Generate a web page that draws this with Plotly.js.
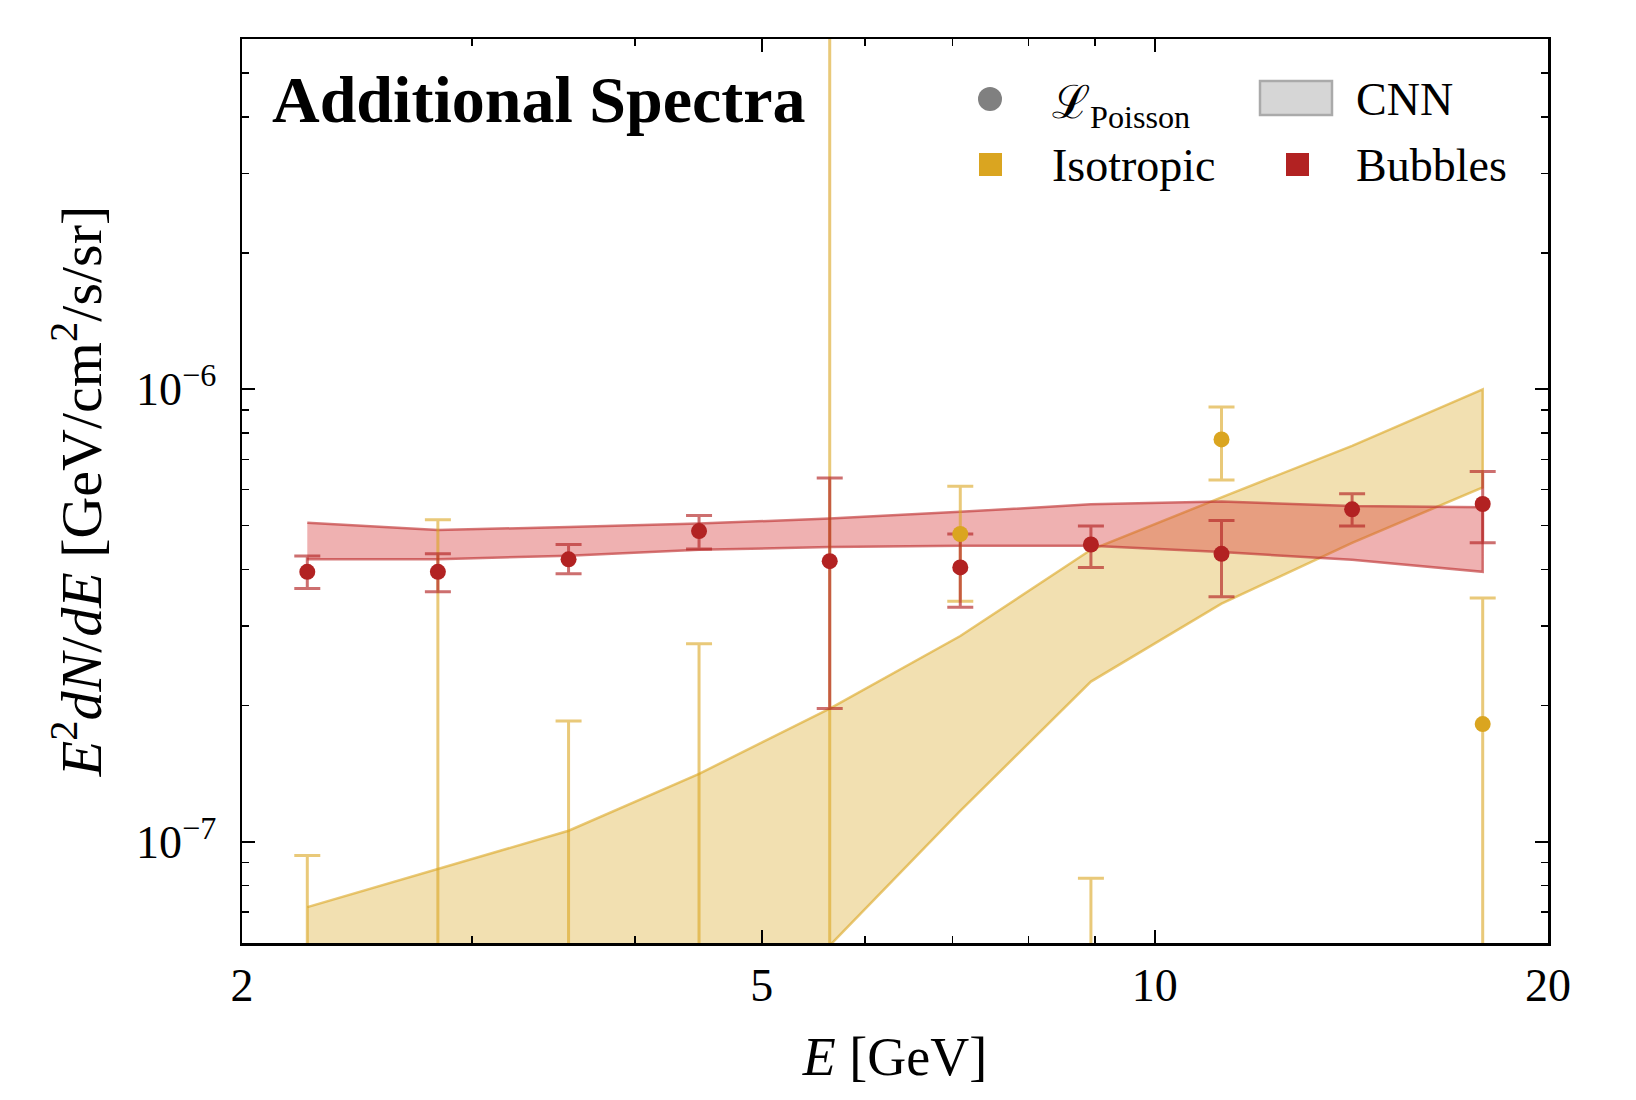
<!DOCTYPE html>
<html><head><meta charset="utf-8">
<script src="https://cdn.plot.ly/plotly-3.0.1.min.js"></script>
<style>html,body{margin:0;padding:0;background:#fff}</style>
</head><body>
<div id="chart" style="width:1636px;height:1100px"></div>
<script>
// ---------- data ----------
const energy = [2.244, 2.825, 3.557, 4.477, 5.637, 7.096, 8.934, 11.247, 14.159, 17.825];

// Bubbles, L_Poisson fit (value, upper, lower)
const bubblesVal = [3.95e-7, 3.95e-7, 4.21e-7, 4.86e-7, 4.17e-7, 4.04e-7, 4.54e-7, 4.33e-7, 5.43e-7, 5.58e-7];
const bubblesHi  = [4.28e-7, 4.33e-7, 4.54e-7, 5.26e-7, 6.37e-7, 4.79e-7, 4.99e-7, 5.13e-7, 5.88e-7, 6.58e-7];
const bubblesLo  = [3.63e-7, 3.57e-7, 3.91e-7, 4.44e-7, 1.97e-7, 3.30e-7, 4.04e-7, 3.48e-7, 4.99e-7, 4.58e-7];

// Isotropic, L_Poisson fit (value, upper, lower); values below the axis are estimates
const isoVal = [2e-8, 2e-8, 2e-8, 2e-8, 3e-8, 4.79e-7, 2e-8, 7.75e-7, null, 1.82e-7];
const isoHi  = [9.33e-8, 5.15e-7, 1.85e-7, 2.74e-7, 2e-5, 6.11e-7, 8.31e-8, 9.14e-7, null, 3.46e-7];
const isoLo  = [1e-9, 1e-9, 1e-9, 1e-9, 1e-9, 3.40e-7, 1e-9, 6.30e-7, null, 1e-9];

// CNN bands
const bubblesCnnUp = [5.07e-7, 4.89e-7, 4.96e-7, 5.05e-7, 5.18e-7, 5.36e-7, 5.57e-7, 5.65e-7, 5.52e-7, 5.49e-7];
const bubblesCnnLo = [4.21e-7, 4.21e-7, 4.29e-7, 4.42e-7, 4.48e-7, 4.51e-7, 4.51e-7, 4.37e-7, 4.20e-7, 3.95e-7];
const isoCnnUp = [7.17e-8, 8.70e-8, 1.058e-7, 1.413e-7, 1.97e-7, 2.85e-7, 4.42e-7, 5.77e-7, 7.50e-7, 1.0e-6];
const isoCnnLo = [1e-8, 1e-8, 1e-8, 1e-8, 5.9e-8, 1.17e-7, 2.26e-7, 3.36e-7, 4.58e-7, 6.07e-7];

// ticks
const xTickVals = [2, 5, 10, 20];
const xTickText = ['2', '5', '10', '20'];
const xMinorVals = [3, 4, 6, 7, 8, 9];
const yTickVals = [1e-7, 1e-6];
const yTickText = ['10<sup>\u22127</sup>', '10<sup>\u22126</sup>'];
const yMinorVals = [7e-8, 8e-8, 9e-8, 2e-7, 3e-7, 4e-7, 5e-7, 6e-7, 7e-7, 8e-7, 9e-7, 2e-6, 3e-6, 4e-6, 5e-6];

// legend labels
const legendLabels = ['\u2112<sub>Poisson</sub>', 'CNN', 'Isotropic', 'Bubbles'];

// ---------- colours ----------
const RED = '#b22222', GOLD = '#daa520';

function band(up, lo, fill, line) {
  return {
    x: energy.concat(energy.slice().reverse()),
    y: up.concat(lo.slice().reverse()),
    type: 'scatter', mode: 'lines', fill: 'toself',
    fillcolor: fill, line: {color: line, width: 2.5},
    hoverinfo: 'skip', showlegend: false
  };
}
const diff = (a, b) => a.map((v, i) => (v == null || b[i] == null) ? null : v - b[i]);

const traces = [
  band(isoCnnUp, isoCnnLo, 'rgba(218,165,32,0.35)', 'rgba(218,165,32,0.6)'),
  band(bubblesCnnUp, bubblesCnnLo, 'rgba(214,50,50,0.38)', 'rgba(190,50,50,0.65)'),
  { // isotropic error bars
    x: energy, y: isoVal, type: 'scatter', mode: 'markers',
    marker: {size: 1, opacity: 0},
    error_y: {type: 'data', symmetric: false, array: diff(isoHi, isoVal), arrayminus: diff(isoVal, isoLo),
              color: 'rgba(218,165,32,0.6)', thickness: 3, width: 13},
    showlegend: false, hoverinfo: 'skip'
  },
  { // bubbles
    x: energy, y: bubblesVal, type: 'scatter', mode: 'markers', name: 'Bubbles',
    marker: {size: 16, color: RED},
    error_y: {type: 'data', symmetric: false, array: diff(bubblesHi, bubblesVal), arrayminus: diff(bubblesVal, bubblesLo),
              color: 'rgba(178,34,34,0.65)', thickness: 3, width: 13},
    showlegend: false
  },
  { // isotropic markers
    x: energy, y: isoVal, type: 'scatter', mode: 'markers', name: 'Isotropic',
    marker: {size: 16, color: GOLD}, showlegend: false
  }
];

// ---------- layout ----------
const M = {l: 242, r: 88, t: 39, b: 157};
const W = 1636, H = 1100;
const PW = W - M.l - M.r, PH = H - M.t - M.b;
const px = X => (X - M.l) / PW;
const py = Y => (H - M.b - Y) / PH;

const FONT = 'Liberation Serif, DejaVu Serif, serif';

const shapes = [
  {type: 'circle', xref: 'paper', yref: 'paper', x0: px(978), x1: px(1002), y0: py(111), y1: py(87),
   fillcolor: '#808080', line: {width: 0}},
  {type: 'rect', xref: 'paper', yref: 'paper', x0: px(1260), x1: px(1332), y0: py(115), y1: py(81),
   fillcolor: '#d6d6d6', line: {color: '#aaaaaa', width: 2.5}},
  {type: 'rect', xref: 'paper', yref: 'paper', x0: px(979), x1: px(1002), y0: py(176), y1: py(153),
   fillcolor: GOLD, line: {width: 0}},
  {type: 'rect', xref: 'paper', yref: 'paper', x0: px(1286), x1: px(1309), y0: py(176), y1: py(153),
   fillcolor: RED, line: {width: 0}}
];

const ann = (text, X, Y, size, bold) => ({
  text: bold ? '<b>' + text + '</b>' : text, xref: 'paper', yref: 'paper', x: px(X), y: py(Y),
  xanchor: 'left', yanchor: 'middle', showarrow: false,
  font: {family: FONT, size: size, color: 'black'}
});

const annotations = [
  ann('Additional Spectra', 270, 99, 66, true),
  ann(legendLabels[0], 1050, 106, 46),
  ann(legendLabels[1], 1354, 99, 46),
  ann(legendLabels[2], 1050, 165, 46),
  ann(legendLabels[3], 1354, 165, 46)
];

const axisCommon = {
  type: 'log', tickmode: 'array', ticks: 'inside', ticklen: 13, tickwidth: 2, tickcolor: 'black',
  showline: true, linewidth: 2.5, linecolor: 'black', mirror: 'ticks',
  showgrid: false, zeroline: false
};

const layout = {
  width: W, height: H, margin: M,
  paper_bgcolor: 'white', plot_bgcolor: 'white', showlegend: false,
  font: {family: FONT, color: 'black'},
  xaxis: Object.assign({}, axisCommon, {
    range: [Math.log10(2), Math.log10(20)],
    tickvals: xTickVals, ticktext: xTickText, tickfont: {family: FONT, size: 46},
    minor: {tickmode: 'array', tickvals: xMinorVals, ticks: 'inside', ticklen: 7, tickwidth: 1.5, tickcolor: 'black', showgrid: false},
    title: {text: '<i>E</i> [GeV]', font: {family: FONT, size: 54}, standoff: 28}
  }),
  yaxis: Object.assign({}, axisCommon, {
    range: [-7.2237, -5.2257],
    tickvals: yTickVals, ticktext: yTickText, tickfont: {family: FONT, size: 46},
    ticklabelstandoff: 14,
    minor: {tickmode: 'array', tickvals: yMinorVals, ticks: 'inside', ticklen: 7, tickwidth: 1.5, tickcolor: 'black', showgrid: false},
    title: {text: '<i>E</i><sup>2</sup><i>dN</i>/<i>dE</i> [GeV/cm<sup>2</sup>/s/sr]', font: {family: FONT, size: 58}, standoff: 16}
  }),
  shapes: shapes,
  annotations: annotations
};

Plotly.newPlot('chart', traces, layout, {displayModeBar: false, staticPlot: true});
</script>
</body></html>
